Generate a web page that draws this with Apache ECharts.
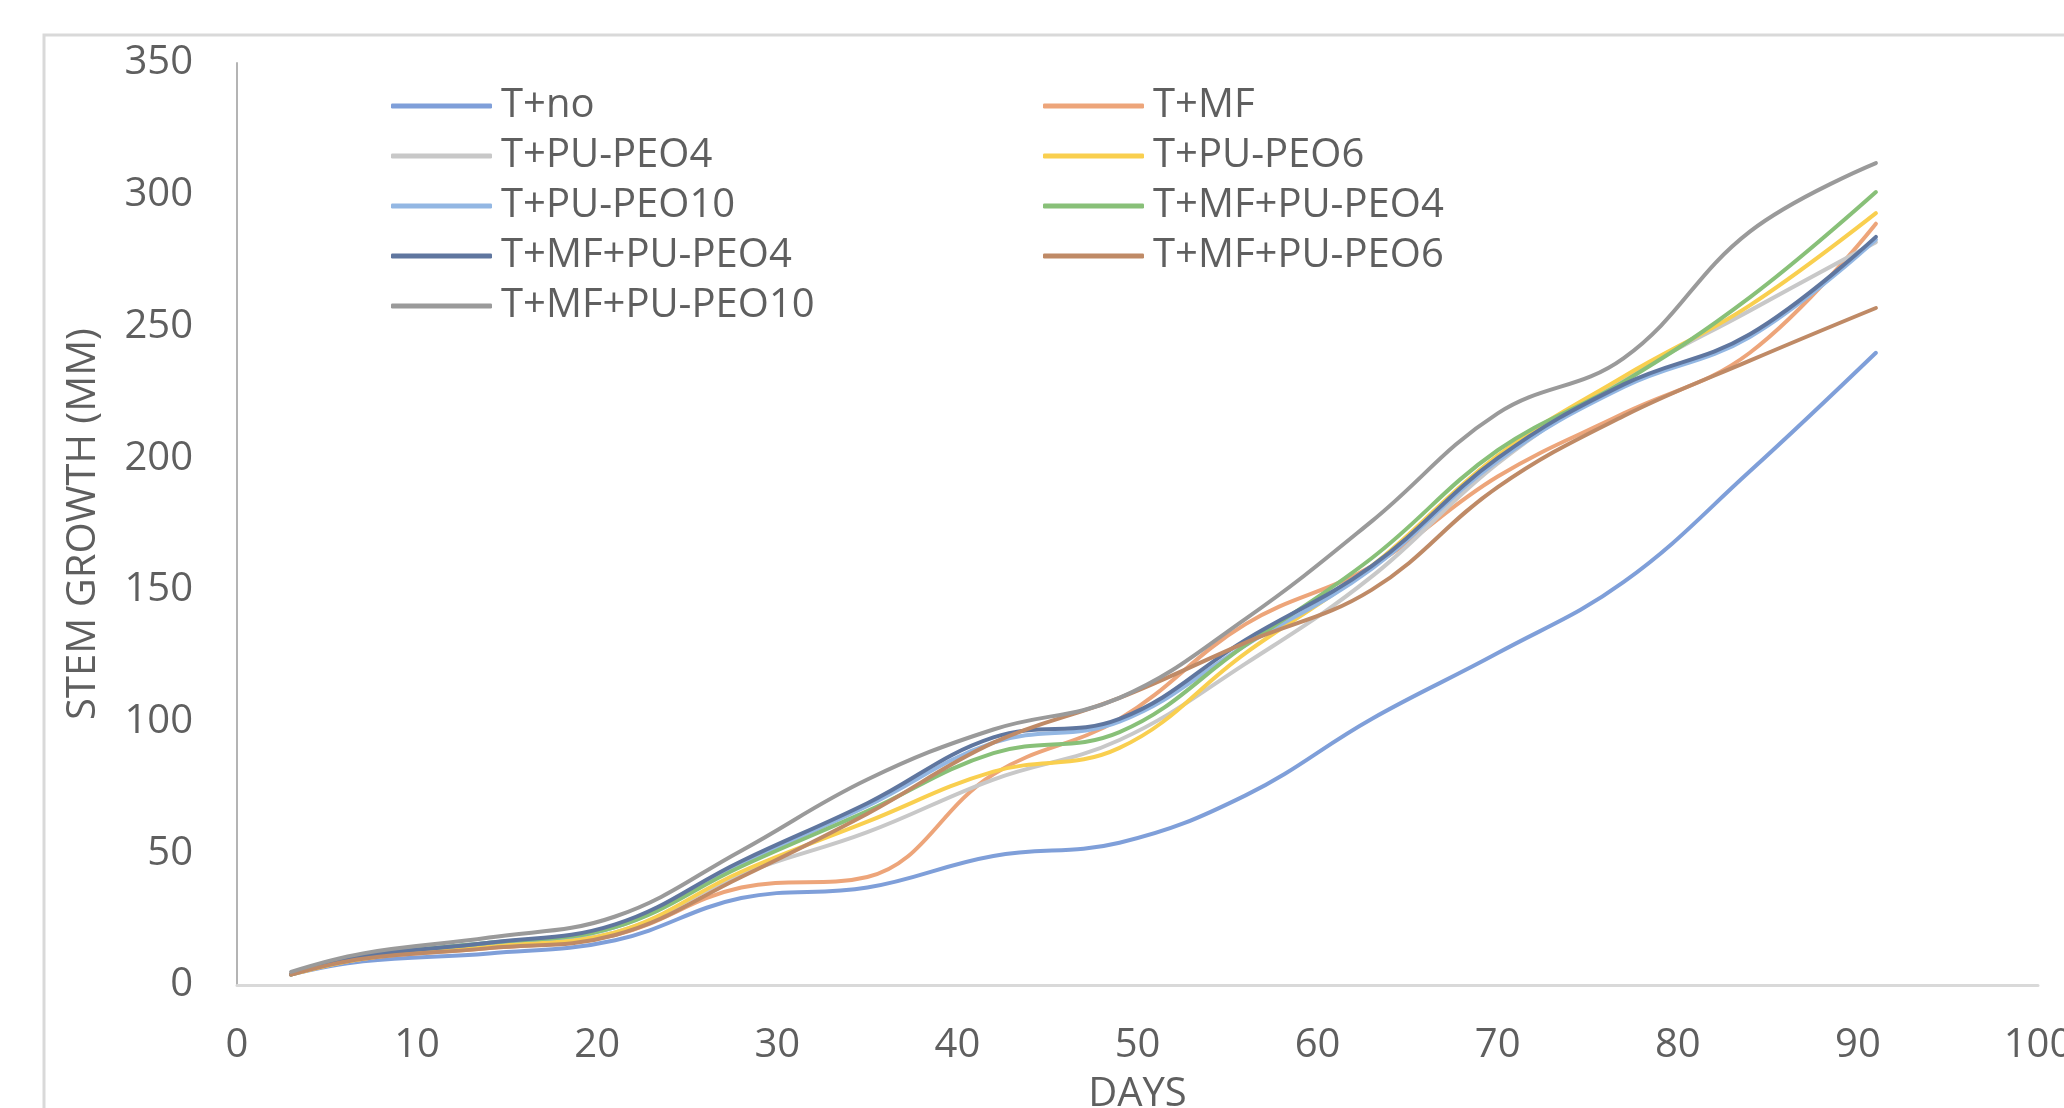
<!DOCTYPE html>
<html lang="en">
<head>
  <meta charset="UTF-8">
  <title>Stem growth</title>
  <style>
    html, body { margin: 0; padding: 0; background: #fff; }
    #main { width: 2064px; height: 1108px; }
  </style>
</head>
<body>
<div id="main"></div>
<script src="https://cdn.jsdelivr.net/npm/echarts@6/dist/echarts.min.js"></script>
<script>
  // days of measurement
  const days = [3, 7, 14, 21, 28, 35, 42, 49, 56, 63, 70, 77, 84, 91];

  // stem growth (mm)
  const tNo        = [4, 9, 12, 17, 33, 37, 49, 54, 72, 101, 126, 153, 195, 240];
  const tMF        = [4, 10, 14, 19, 37, 41, 80, 101, 137, 159, 193, 217, 240, 289];
  const tPuPeo4    = [4, 10, 15, 20, 42, 58, 78, 93, 122, 155, 198, 230, 256, 282];
  const tPuPeo6    = [4, 10, 15, 20, 43, 62, 81, 90, 126, 159, 201, 231, 258, 293];
  const tPuPeo10   = [4, 11, 16, 22, 46, 68, 92, 100, 129, 158, 199, 227, 246, 283];
  const tMfPuPeo4  = [4, 11, 16, 22, 45, 66, 88, 96, 129, 162, 203, 229, 261, 301];
  const tMfPuPeo4b = [4, 11, 16, 23, 47, 69, 94, 101, 131, 159, 200, 228, 247, 284];
  const tMfPuPeo6  = [4, 10, 14, 19, 41, 65, 92, 109, 130, 150, 189, 216, 237, 257];
  const tMfPuPeo10 = [5, 12, 18, 26, 51, 78, 97, 109, 139, 176, 217, 238, 286, 312];

  // the figure labels two series "T+MF+PU-PEO4"; the second gets a hidden key suffix
  const names = ['T+no', 'T+MF', 'T+PU-PEO4', 'T+PU-PEO6', 'T+PU-PEO10',
    'T+MF+PU-PEO4', 'T+MF+PU-PEO4#2', 'T+MF+PU-PEO6', 'T+MF+PU-PEO10'];
  const values = [tNo, tMF, tPuPeo4, tPuPeo6, tPuPeo10, tMfPuPeo4, tMfPuPeo4b, tMfPuPeo6, tMfPuPeo10];
  const colors = ['#7f9fd9', '#eda57a', '#c8c8c8', '#f9cf4f', '#93b7e3',
    '#88c078', '#5f769f', '#bf8a66', '#9a9a9a'];

  const font = "'Open Sans', 'Liberation Sans', sans-serif";
  const txt = '#5f5f5f';

  let series = [];
  for (let i = 0; i < names.length; i++) {
    series.push({
      name: names[i],
      type: 'line',
      smooth: 0.4,
      showSymbol: false,
      symbol: 'none',
      color: colors[i],
      lineStyle: { width: 4, color: colors[i], cap: 'round', join: 'round' },
      data: days.map((d, j) => [d, values[i][j]])
    });
  }

  const legendBase = {
    orient: 'vertical',
    top: 81,
    itemWidth: 101,
    itemHeight: 5,
    itemGap: 10,
    icon: 'roundRect',
    formatter: n => n.replace('#2', ''),
    textStyle: { fontFamily: font, fontSize: 40, color: txt, lineHeight: 40, padding: [0, 0, 0, 4] }
  };

  var chartDom = document.getElementById('main');
  var myChart = echarts.init(chartDom, null, { renderer: 'canvas' });
  myChart.setOption({
    backgroundColor: '#fff',
    animation: false,
    color: colors,
    grid: { left: 237, right: 26, top: 63, bottom: 123, containLabel: false, outerBoundsMode: 'none' },
    graphic: [{
      type: 'rect',
      shape: { x: 44, y: 35, width: 2200, height: 1200 },
      style: { fill: 'none', stroke: '#d9d9d9', lineWidth: 3 },
      silent: true,
      z: -1
    }],
    legend: [
      Object.assign({}, legendBase, {
        left: 386,
        data: ['T+no', 'T+PU-PEO4', 'T+PU-PEO10', 'T+MF+PU-PEO4#2', 'T+MF+PU-PEO10']
      }),
      Object.assign({}, legendBase, {
        left: 1038,
        data: ['T+MF', 'T+PU-PEO6', 'T+MF+PU-PEO4', 'T+MF+PU-PEO6']
      })
    ],
    xAxis: {
      type: 'value',
      min: 0,
      max: 100,
      interval: 10,
      name: 'DAYS',
      nameLocation: 'middle',
      nameGap: 90,
      nameTextStyle: { fontFamily: font, fontSize: 40, color: txt },
      axisLine: { show: true, lineStyle: { color: '#d9d9d9', width: 3 } },
      axisTick: { show: false },
      splitLine: { show: false },
      axisLabel: { fontFamily: font, fontSize: 40, color: txt, margin: 41 }
    },
    yAxis: {
      type: 'value',
      min: 0,
      max: 350,
      interval: 50,
      name: 'STEM GROWTH (MM)',
      nameLocation: 'middle',
      nameGap: 133,
      nameTextStyle: { fontFamily: font, fontSize: 40, color: txt },
      axisLine: { show: true, lineStyle: { color: '#b4b4b4', width: 2 } },
      axisTick: { show: false },
      splitLine: { show: false },
      axisLabel: { fontFamily: font, fontSize: 40, color: txt, margin: 44 }
    },
    series: series
  });
</script>
</body>
</html>
